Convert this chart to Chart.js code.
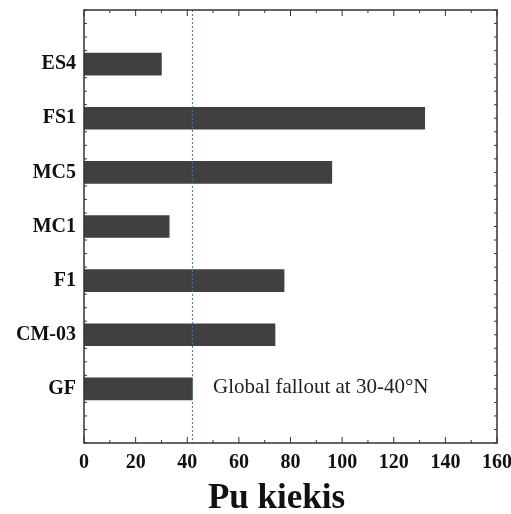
<!DOCTYPE html>
<html lang="en">
<head>
  <meta charset="UTF-8" />
  <title>Pu kiekis</title>
  <script src="https://cdn.jsdelivr.net/npm/chart.js"></script>
  <style>
    body { margin: 0; background: #fff; }
    canvas { display: block; }
  </style>
</head>
<body>
  <canvas id="puChart" width="511" height="514"></canvas>

  <script>
    const sites = ['ES4', 'FS1', 'MC5', 'MC1', 'F1', 'CM-03', 'GF'];
    const puValues = [30, 132, 96, 33, 77.5, 74, 42];
    const xTicks = [0, 20, 40, 60, 80, 100, 120, 140, 160];
    const falloutLevel = 42;
    const falloutNote = 'Global fallout at 30-40°N';
    const axisTitle = 'Pu kiekis';

    // blank slot above and below so the bars sit a full step from the frame
    const labels = ['', ...sites, ''];
    const values = [null, ...puValues, null];

    const serif = '"Liberation Serif", "Times New Roman", serif';

    // frame, inward ticks, the fallout line and its note, axis title
    const framePlugin = {
      id: 'frame',
      afterDatasetsDraw(chart) {
        const { ctx, chartArea: a, scales: { x, y } } = chart;
        ctx.save();

        const fx = x.getPixelForValue(falloutLevel);
        ctx.strokeStyle = '#4d6d9e';
        ctx.lineWidth = 1;
        ctx.setLineDash([2, 2]);
        ctx.beginPath();
        ctx.moveTo(fx, a.top);
        ctx.lineTo(fx, a.bottom);
        ctx.stroke();
        ctx.setLineDash([]);

        ctx.fillStyle = '#222';
        ctx.font = '21px ' + serif;
        ctx.textBaseline = 'middle';
        ctx.fillText(falloutNote, x.getPixelForValue(50), y.getPixelForValue(sites.length) - 1);

        // title sits a little left of the plot centre in the original
        ctx.fillStyle = '#111';
        ctx.font = 'bold 35px ' + serif;
        ctx.textAlign = 'center';
        ctx.fillText(axisTitle, (a.left + a.right) / 2 - 14, chart.height - 15);

        ctx.strokeStyle = '#333';
        ctx.lineWidth = 1.5;
        ctx.strokeRect(a.left, a.top, a.right - a.left, a.bottom - a.top);

        ctx.lineWidth = 1;
        ctx.beginPath();
        const step = xTicks[1] - xTicks[0];
        for (let v = xTicks[0]; v <= xTicks[xTicks.length - 1]; v += step / 2) {
          const px = x.getPixelForValue(v);
          const len = v % step === 0 ? 6 : 3;
          ctx.moveTo(px, a.bottom);
          ctx.lineTo(px, a.bottom - len);
          ctx.moveTo(px, a.top);
          ctx.lineTo(px, a.top + len);
        }
        for (let i = 0; i <= (labels.length - 1) * 4; i++) {
          const py = y.getPixelForValue(i / 4);
          ctx.moveTo(a.left, py);
          ctx.lineTo(a.left + 3, py);
          ctx.moveTo(a.right, py);
          ctx.lineTo(a.right - 3, py);
        }
        ctx.stroke();
        ctx.restore();
      }
    };

    new Chart(document.getElementById('puChart'), {
      type: 'bar',
      data: {
        labels: labels,
        datasets: [{
          data: values,
          backgroundColor: '#404040',
          borderWidth: 0,
          barThickness: 22
        }]
      },
      options: {
        indexAxis: 'y',
        responsive: false,
        animation: false,
        layout: { padding: { top: 10, right: 14, left: 0, bottom: 0 } },
        plugins: {
          legend: { display: false },
          tooltip: { enabled: false }
        },
        scales: {
          x: {
            type: 'linear',
            min: xTicks[0],
            max: xTicks[xTicks.length - 1],
            afterBuildTicks: s => { s.ticks = xTicks.map(v => ({ value: v })); },
            afterFit: s => { s.height = 71; s.paddingLeft = 0; s.paddingRight = 0; },
            grid: { display: false, drawTicks: false },
            border: { display: false },
            ticks: {
              padding: 8,
              color: '#111',
              maxRotation: 0,
              font: { family: serif, size: 20, weight: 'bold' }
            }
          },
          y: {
            type: 'category',
            offset: false,
            afterFit: s => { s.width = 84; s.paddingTop = 0; s.paddingBottom = 0; },
            grid: { display: false, drawTicks: false },
            border: { display: false },
            ticks: {
              padding: 8,
              color: '#111',
              autoSkip: false,
              font: { family: serif, size: 20, weight: 'bold' }
            }
          }
        }
      },
      plugins: [framePlugin]
    });
  </script>
</body>
</html>
